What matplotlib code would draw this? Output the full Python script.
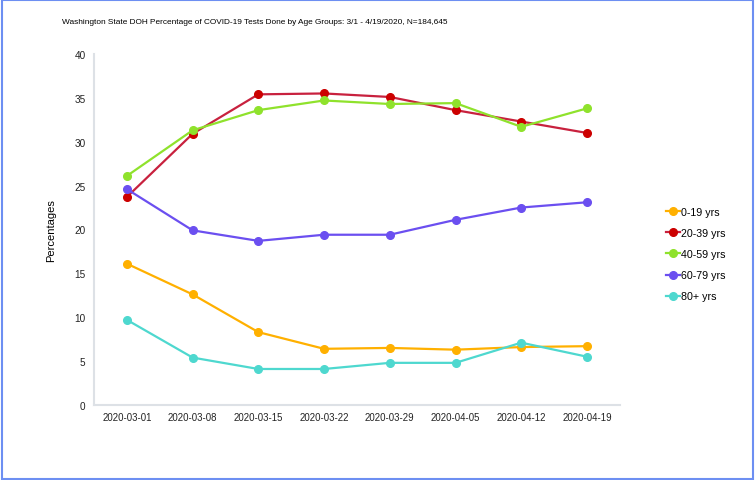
import matplotlib
matplotlib.use("Agg")
import matplotlib.pyplot as plt
from matplotlib.patches import Rectangle

plt.rcParams['font.family'] = ['Liberation Sans', 'DejaVu Sans']

# data
dates = ["2020-03-01", "2020-03-08", "2020-03-15", "2020-03-22",
         "2020-03-29", "2020-04-05", "2020-04-12", "2020-04-19"]
groups = ["0-19 yrs", "20-39 yrs", "40-59 yrs", "60-79 yrs", "80+ yrs"]
age_0_19 = [16.1, 12.6, 8.3, 6.4, 6.5, 6.3, 6.6, 6.7]
age_20_39 = [23.7, 30.9, 35.4, 35.5, 35.1, 33.6, 32.3, 31.0]
age_40_59 = [26.1, 31.3, 33.6, 34.7, 34.3, 34.4, 31.7, 33.8]
age_60_79 = [24.6, 19.9, 18.7, 19.4, 19.4, 21.1, 22.5, 23.1]
age_80_up = [9.7, 5.4, 4.1, 4.1, 4.8, 4.8, 7.1, 5.5]
series = [age_0_19, age_20_39, age_40_59, age_60_79, age_80_up]

line_colors = ["#ffb000", "#c8213e", "#8fe22c", "#6b4ff0", "#4ed8cf"]
marker_colors = ["#ffb000", "#cc0000", "#8fe22c", "#6b4ff0", "#4ed8cf"]

fig = plt.figure(figsize=(7.55, 4.81), dpi=100)
ax = fig.add_axes([0.1245, 0.156, 0.6965, 0.7297])

x = list(range(len(dates)))
for vals, name, lc, mc in zip(series, groups, line_colors, marker_colors):
    ax.plot(x, vals, color=lc, lw=1.6, marker='o', markersize=5.5,
            markerfacecolor=mc, markeredgecolor=mc, label=name)

ax.set_xlim(-0.5, len(dates) - 0.5)
ax.set_ylim(0, 40)
ax.set_yticks(range(0, 41, 5))
ax.set_xticks(x)
ax.set_xticklabels(dates)
ax.tick_params(length=0, labelsize=7.2, colors="#222222")
ax.tick_params(axis='x', pad=5, labelsize=6.9)
ax.tick_params(axis='y', pad=6)
for side in ["top", "right"]:
    ax.spines[side].set_visible(False)
for side in ["left", "bottom"]:
    ax.spines[side].set_color("#dde1e6")
    ax.spines[side].set_linewidth(1.5)

ax.set_ylabel("Percentages", fontsize=8, labelpad=13)

fig.text(0.338, 0.953, "Washington State DOH Percentage of COVID-19 Tests Done by Age Groups: 3/1 - 4/19/2020, N=184,645",
         ha='center', va='center', fontsize=5.95)

leg = ax.legend(loc='center left', bbox_to_anchor=(1.07, 0.43), frameon=False,
                fontsize=7.7, handlelength=1.3, handletextpad=0.05,
                labelspacing=1.05, markerscale=1.0)

# blue frame round the picture
fig.patches.append(Rectangle((0.002, 0.003), 0.995, 0.994, transform=fig.transFigure,
                             fill=False, edgecolor="#6d8ff2", lw=1.5))

fig.savefig("out.png", dpi=100)
